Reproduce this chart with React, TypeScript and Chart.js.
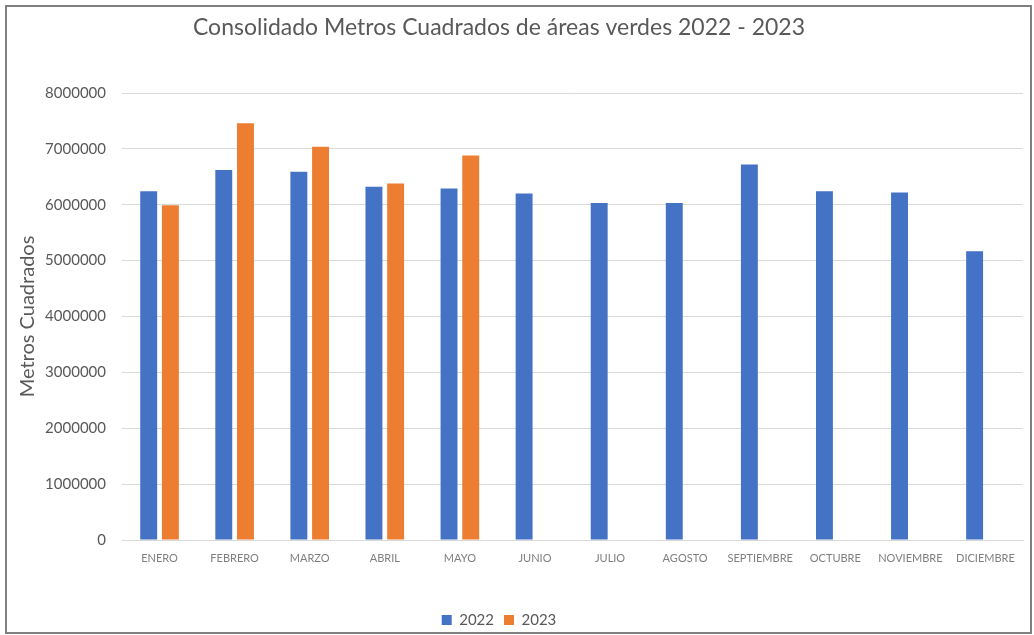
import React, { useEffect, useRef } from "react";
import { Chart, registerables } from "chart.js";

Chart.register(...registerables);

const months = [
  "ENERO", "FEBRERO", "MARZO", "ABRIL", "MAYO", "JUNIO",
  "JULIO", "AGOSTO", "SEPTIEMBRE", "OCTUBRE", "NOVIEMBRE", "DICIEMBRE",
];
const values2022 = [
  6240000, 6620000, 6590000, 6320000, 6290000, 6200000,
  6030000, 6030000, 6720000, 6240000, 6220000, 5170000,
];
const values2023 = [
  5990000, 7460000, 7040000, 6380000, 6880000, null,
  null, null, null, null, null, null,
];
const yTicks = [0, 1000000, 2000000, 3000000, 4000000, 5000000, 6000000, 7000000, 8000000];

const FONT = "Lato, 'Open Sans', sans-serif";

const framePlugin = {
  id: "frame",
  beforeDraw(chart: any) {
    const ctx = chart.ctx;
    ctx.save();
    ctx.fillStyle = "#ffffff";
    ctx.fillRect(0, 0, chart.width, chart.height);
    ctx.strokeStyle = "#808080";
    ctx.lineWidth = 2;
    ctx.strokeRect(6, 6, 1025, 627);
    ctx.restore();
  },
};

export default function App() {
  const ref = useRef<HTMLCanvasElement | null>(null);
  useEffect(() => {
    if (!ref.current) return;
    const chart = new Chart(ref.current, {
      type: "bar",
      data: {
        labels: months,
        datasets: [
          {
            label: "2022",
            data: values2022,
            backgroundColor: "#4472C4",
            categoryPercentage: 0.578,
            barPercentage: 0.78,
          },
          {
            label: "2023",
            data: values2023 as any,
            backgroundColor: "#ED7D31",
            categoryPercentage: 0.578,
            barPercentage: 0.78,
          },
        ],
      },
      options: {
        responsive: false,
        animation: false,
        devicePixelRatio: 1,
        layout: { padding: { left: -25, right: 11, top: 0, bottom: -2.5 } },
        plugins: {
          title: {
            display: true,
            text: "Consolidado Metros Cuadrados de áreas verdes 2022 - 2023",
            color: "#595959",
            font: { family: FONT, size: 23, weight: "normal" },
            padding: { top: 14.2, bottom: 51.2 },
          },
          legend: {
            position: "bottom",
            labels: {
              boxWidth: 10,
              boxHeight: 10,
              padding: 10,
              color: "#595959",
              font: { family: FONT, size: 15 },
            },
          },
          tooltip: { enabled: false },
        },
        scales: {
          x: {
            grid: { display: false, drawTicks: false },
            border: { color: "#d9d9d9", width: 1 },
            ticks: {
              color: "#7f7f7f",
              font: { family: FONT, size: 11 },
              padding: 12,
              maxRotation: 0,
              autoSkip: false,
            },
            afterFit: (scale: any) => {
              scale.height = 62.5;
            },
          },
          y: {
            min: 0,
            max: 8000000,
            afterBuildTicks: (scale: any) => {
              scale.ticks = yTicks.map((v) => ({ value: v }));
            },
            grid: { color: "#d9d9d9", drawTicks: false },
            border: { display: false },
            ticks: {
              color: "#595959",
              font: { family: FONT, size: 15 },
              padding: 16,
              callback: (v: any) => String(v),
            },
            title: {
              display: true,
              text: "Metros Cuadrados",
              color: "#595959",
              font: { family: FONT, size: 20 },
              padding: { top: 41, bottom: 4 },
            },
            afterFit: (scale: any) => {
              scale.width = 147;
            },
          },
        },
      },
      plugins: [framePlugin],
    });
    return () => chart.destroy();
  }, []);
  return (
    <div style={{ position: "fixed", left: 0, top: 0, width: 1034, height: 635 }}>
      <canvas ref={ref} width={1034} height={635} style={{ display: "block" }} />
    </div>
  );
}
